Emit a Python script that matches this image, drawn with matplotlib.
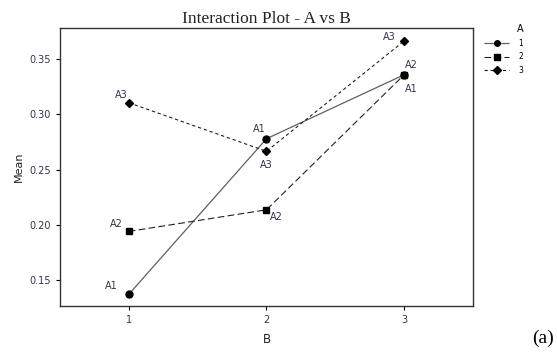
import matplotlib.pyplot as plt

# данные
B = [1, 2, 3]
mean_a1 = [0.137, 0.278, 0.336]
mean_a2 = [0.194, 0.2136, 0.336]
mean_a3 = [0.3106, 0.2666, 0.3666]
levels = ["1", "2", "3"]

# подписи у точек: (текст, смещение в пикселях)
lab_a1 = [("A1", (-18, 8)), ("A1", (-7, 10)), ("A1", (7, -14))]
lab_a2 = [("A2", (-12, 7)), ("A2", (10, -7)), ("A2", (7, 10))]
lab_a3 = [("A3", (-8, 8)), ("A3", (0, -14)), ("A3", (-15, 4))]

txt_col = "#33334d"

fig = plt.figure(figsize=(5.57, 3.54), dpi=100)
ax = fig.add_axes([0.1077, 0.1356, 0.7415, 0.7842])

series = [
    (mean_a1, "o", (0, ()), "#606060", 0.9, 5, lab_a1),
    (mean_a2, "s", (0, (6, 3)), "#202020", 0.8, 5, lab_a2),
    (mean_a3, "D", (0, (3, 2.5)), "#202020", 0.8, 4.5, lab_a3),
]
for (y, m, ls, c, lw, ms, labs), name in zip(series, levels):
    ax.plot(B, y, linestyle=ls, color=c, linewidth=lw, marker=m,
            markersize=ms, markerfacecolor="black", markeredgecolor="black",
            label=name)
    for xi, yi, (t, off) in zip(B, y, labs):
        ax.annotate(t, (xi, yi), xytext=(off[0] * 0.72, off[1] * 0.72),
                    textcoords="offset points", ha="center", va="center",
                    fontsize=7, color=txt_col)

ax.set_xlim(0.5, 3.5)
ax.set_ylim(0.1264, 0.378)
ax.set_xticks(B)
ax.set_yticks([0.15, 0.20, 0.25, 0.30, 0.35])
ax.set_yticklabels(["0.15", "0.20", "0.25", "0.30", "0.35"])
ax.tick_params(direction="out", length=3, width=0.8, labelsize=7,
               labelcolor=txt_col, top=False, right=False)
for s in ax.spines.values():
    s.set_linewidth(1.0)
    s.set_color("#333333")

ax.set_xlabel("B", fontsize=8.5, color="#222222", labelpad=6)
ax.set_ylabel("Mean", fontsize=8, color="#222222", labelpad=4)
ax.set_title("Interaction Plot - A vs B", family="Liberation Serif",
             fontsize=12.5, color="#222222", pad=4)

leg = ax.legend(title="A", loc="upper left", bbox_to_anchor=(1.01, 1.04),
                frameon=False, fontsize=5.5, title_fontsize=7,
                handlelength=3.3, handletextpad=1.2, labelspacing=0.6,
                markerscale=0.8, markerfirst=True, alignment="right")

fig.text(0.995, 0.02, "(a)", family="Liberation Serif", fontsize=14,
         ha="right", va="bottom")

fig.savefig("out.png", dpi=100)
